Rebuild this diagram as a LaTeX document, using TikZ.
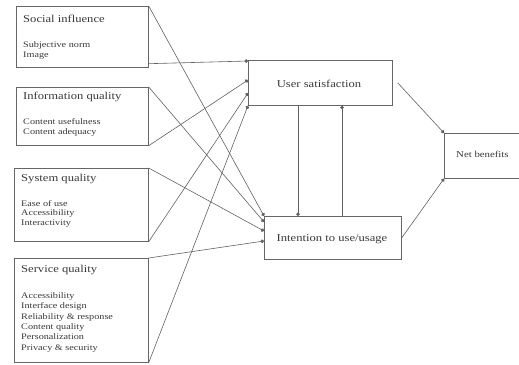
\documentclass[tikz,border=0pt]{standalone}
\usepackage{fontspec}
\newfontfamily\diafont[FakeStretch=1.2]{Liberation Serif}
\usetikzlibrary{arrows.meta}
\begin{document}
\begin{tikzpicture}[x=1pt,y=-1pt,
  box/.style={draw=black!60, line width=0.7pt, anchor=north west, inner sep=0pt},
  ttl/.style={anchor=base west, inner sep=0pt, text=black!78, font=\diafont\fontsize{10.5}{12}\selectfont},
  itm/.style={anchor=base west, inner sep=0pt, text=black!78, font=\diafont\fontsize{8.5}{10}\selectfont},
  ctr/.style={inner sep=0pt, text=black!78, font=\diafont\fontsize{10.5}{12}\selectfont},
  conn/.style={draw=black!62, line width=0.6pt, -{Circle[length=3.6pt]}},
  plain/.style={draw=black!62, line width=0.6pt}]
\useasboundingbox (0,0) rectangle (519,364);

% left boxes
\node[box, minimum width=132pt, minimum height=61pt] (si) at (16,6) {};
\node[box, minimum width=132pt, minimum height=58pt] (iq) at (16,87) {};
\node[box, minimum width=134pt, minimum height=73pt] (sq) at (14,168) {};
\node[box, minimum width=134pt, minimum height=104pt] (svq) at (14,258) {};
% right boxes
\node[box, minimum width=144pt, minimum height=45pt] (us) at (248,60) {};
\node[box, minimum width=137pt, minimum height=43pt] (iu) at (264,216) {};
\node[box, minimum width=90pt, minimum height=45pt] (nb) at (444,133) {};

% texts
\node[ttl] (t1) at (23,22) {Social influence};
\node[itm] (t1a) at (23,47) {Subjective norm};
\node[itm] (t1b) at (23,57) {Image};

\node[ttl] (t2) at (23,99) {Information quality};
\node[itm] (t2a) at (23,124) {Content usefulness};
\node[itm] (t2b) at (23,134) {Content adequacy};

\node[ttl] (t3) at (21,181) {System quality};
\node[itm] (t3a) at (21,206) {Ease of use};
\node[itm] (t3b) at (21,215.5) {Accessibility};
\node[itm] (t3c) at (21,225) {Interactivity};

\node[ttl] (t4) at (21,272) {Service quality};
\node[itm] (t4a) at (21,298) {Accessibility};
\node[itm] (t4b) at (21,308.5) {Interface design};
\node[itm] (t4c) at (21,319) {Reliability \& response};
\node[itm] (t4d) at (21,329) {Content quality};
\node[itm] (t4e) at (21,339.5) {Personalization};
\node[itm] (t4f) at (21,350) {Privacy \& security};

\node[ctr] (tus) at (319,84) {User satisfaction};
\node[ctr] (tiu) at (332,239) {Intention to use/usage};
\node[ctr, anchor=west, font=\diafont\fontsize{9}{11}\selectfont] (tnb) at (456,154) {Net benefits};

% connectors to user satisfaction
\draw[conn] ([yshift=4pt]si.south east) -- ([yshift=-1pt]us.north west);
\draw[conn] (iq.south east) -- ([yshift=-20pt]us.north west);
\draw[conn] (sq.south east) -- ([yshift=-33pt]us.north west);
\draw[conn] (svq.south east) -- (us.south west);
% connectors to intention
\draw[conn] (si.north east) -- (iu.north west);
\draw[conn] (iq.north east) -- ([yshift=-6pt]iu.north west);
\draw[conn] (sq.north east) -- ([yshift=-15pt]iu.north west);
\draw[conn] (svq.north east) -- ([yshift=-25pt]iu.north west);
% between the two
\draw[conn] ([xshift=50pt]us.south west) -- ([xshift=34pt]iu.north west);
\draw[conn] ([xshift=78pt]iu.north west) -- ([xshift=94pt]us.south west);
% to net benefits
\draw[conn] ([xshift=5pt]us.east) -- (nb.north west);
\draw[conn] (iu.east) -- (nb.south west);
\end{tikzpicture}
\end{document}
